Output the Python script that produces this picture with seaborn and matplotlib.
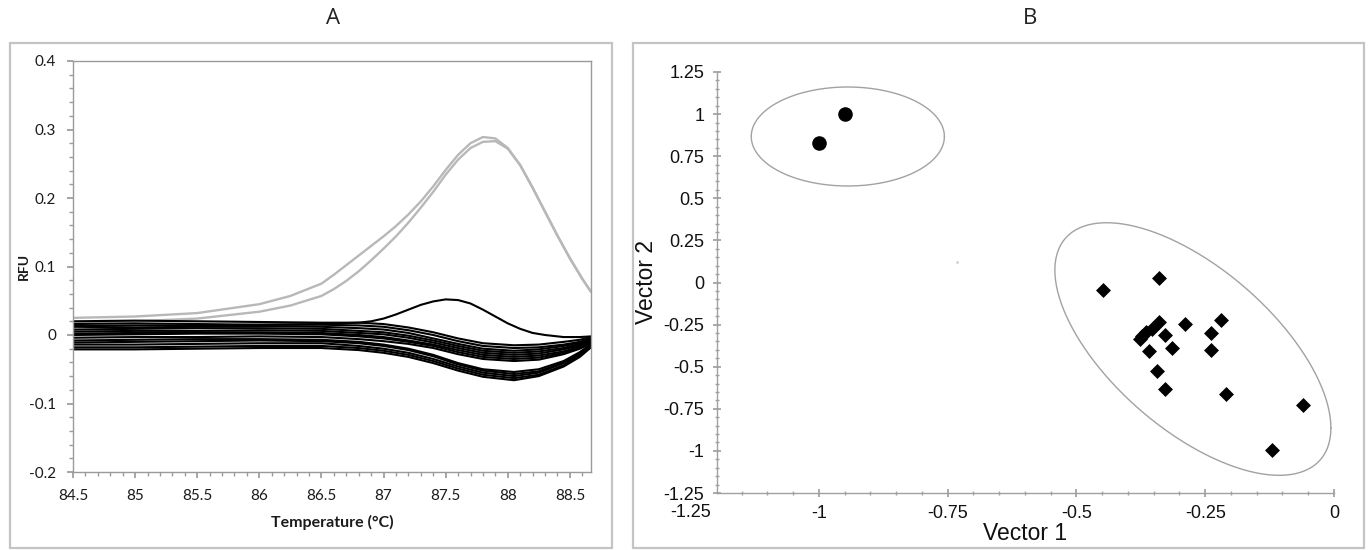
import numpy as np
import pandas as pd
import matplotlib
matplotlib.use("Agg")
import matplotlib.pyplot as plt
import seaborn as sns
from matplotlib.patches import Rectangle
from matplotlib.ticker import MultipleLocator

# ---------------- Panel A data (melt curves) ----------------
gray_temps = [84.5, 85.0, 85.5, 86.0, 86.25, 86.5, 86.6, 86.7, 86.8, 86.9, 87.0, 87.1,
              87.2, 87.3, 87.4, 87.5, 87.6, 87.7, 87.8, 87.9, 88.0, 88.1, 88.2, 88.3,
              88.4, 88.5, 88.6, 88.67]
gray_upper = [0.025, 0.027, 0.032, 0.045, 0.057, 0.075, 0.088, 0.102, 0.116, 0.130, 0.144, 0.159,
              0.176, 0.195, 0.217, 0.241, 0.263, 0.280, 0.289, 0.287, 0.273, 0.248, 0.215, 0.180,
              0.145, 0.112, 0.082, 0.063]
gray_lower = [0.019, 0.020, 0.024, 0.034, 0.043, 0.057, 0.067, 0.079, 0.093, 0.109, 0.126, 0.144,
              0.164, 0.186, 0.209, 0.234, 0.256, 0.273, 0.282, 0.283, 0.272, 0.248, 0.215, 0.180,
              0.145, 0.112, 0.082, 0.063]

bump_temps = [84.5, 85.0, 85.5, 86.0, 86.5, 86.8, 86.9, 87.0, 87.1, 87.2, 87.3, 87.4,
              87.5, 87.6, 87.7, 87.8, 87.9, 88.0, 88.1, 88.2, 88.3, 88.45, 88.58, 88.67]
bump_curve = [0.013, 0.014, 0.014, 0.015, 0.016, 0.018, 0.020, 0.024, 0.030, 0.037, 0.044, 0.049,
              0.052, 0.051, 0.046, 0.037, 0.027, 0.017, 0.009, 0.003, 0.000, -0.003, -0.003, -0.002]

black_temps = [84.5, 85.0, 85.5, 86.0, 86.5, 86.8, 87.0, 87.2, 87.4, 87.6,
               87.8, 88.05, 88.25, 88.45, 88.58, 88.67]
black_curves = [
    [0.020, 0.021, 0.020, 0.019, 0.018, 0.018, 0.016, 0.011, 0.004, -0.005, -0.012, -0.015, -0.014, -0.010, -0.007, -0.003],
    [0.016, 0.017, 0.016, 0.015, 0.015, 0.014, 0.012, 0.007, 0.000, -0.009, -0.016, -0.019, -0.018, -0.014, -0.010, -0.005],
    [0.012, 0.011, 0.012, 0.013, 0.012, 0.010, 0.008, 0.003, -0.005, -0.013, -0.020, -0.023, -0.021, -0.016, -0.011, -0.006],
    [0.008, 0.009, 0.010, 0.010, 0.009, 0.006, 0.004, -0.001, -0.008, -0.016, -0.023, -0.026, -0.024, -0.019, -0.013, -0.008],
    [0.005, 0.006, 0.006, 0.007, 0.006, 0.003, 0.001, -0.004, -0.011, -0.019, -0.026, -0.029, -0.027, -0.021, -0.015, -0.009],
    [0.002, 0.003, 0.004, 0.004, 0.003, 0.000, -0.003, -0.008, -0.014, -0.022, -0.029, -0.032, -0.030, -0.024, -0.017, -0.010],
    [0.000, 0.001, 0.002, 0.002, 0.001, -0.002, -0.005, -0.010, -0.016, -0.025, -0.032, -0.035, -0.033, -0.026, -0.019, -0.011],
    [-0.004, -0.003, -0.003, -0.002, -0.003, -0.006, -0.009, -0.013, -0.019, -0.028, -0.035, -0.038, -0.036, -0.028, -0.020, -0.012],
    [-0.008, -0.007, -0.006, -0.006, -0.007, -0.010, -0.014, -0.020, -0.029, -0.041, -0.050, -0.054, -0.050, -0.038, -0.025, -0.013],
    [-0.011, -0.010, -0.009, -0.008, -0.009, -0.012, -0.016, -0.022, -0.031, -0.043, -0.052, -0.057, -0.053, -0.040, -0.027, -0.014],
    [-0.014, -0.014, -0.013, -0.012, -0.012, -0.016, -0.020, -0.026, -0.035, -0.046, -0.055, -0.060, -0.055, -0.041, -0.028, -0.015],
    [-0.018, -0.018, -0.017, -0.016, -0.016, -0.019, -0.023, -0.029, -0.038, -0.049, -0.058, -0.063, -0.058, -0.044, -0.030, -0.016],
    [-0.021, -0.021, -0.020, -0.019, -0.019, -0.022, -0.026, -0.032, -0.041, -0.052, -0.061, -0.066, -0.060, -0.046, -0.032, -0.018],
]
a_xticks = [84.5, 85, 85.5, 86, 86.5, 87, 87.5, 88, 88.5]
a_xticklabels = ["84.5", "85", "85.5", "86", "86.5", "87", "87.5", "88", "88.5"]
a_yticks = [-0.2, -0.1, 0, 0.1, 0.2, 0.3, 0.4]
a_yticklabels = ["-0.2", "-0.1", "0", "0.1", "0.2", "0.3", "0.4"]

# ---------------- Panel B data (scatter) ----------------
circle_x = [-1.0, -0.95]
circle_y = [0.83, 1.0]
diamond_x = [-0.449, -0.339, -0.339, -0.354, -0.366, -0.373, -0.377, -0.329, -0.289, -0.219,
             -0.239, -0.359, -0.315, -0.239, -0.344, -0.329, -0.210, -0.060, -0.120]
diamond_y = [-0.045, 0.025, -0.233, -0.278, -0.295, -0.315, -0.337, -0.312, -0.248, -0.223,
             -0.298, -0.405, -0.387, -0.401, -0.526, -0.634, -0.664, -0.727, -0.995]
stray_x = [-0.732]
stray_y = [0.12]
# ellipses: centre x, centre y, half-extent x, half-extent y, correlation
ell1 = dict(cx=-0.944, cy=0.867, sx=0.1875, sy=0.294, rho=0.0)
ell2 = dict(cx=-0.274, cy=-0.395, sx=0.268, sy=0.75, rho=-0.625)
b_xticks = [-1.0, -0.75, -0.5, -0.25, 0]
b_xticklabels = ["-1", "-0.75", "-0.5", "-0.25", "0"]
b_first_xtick = -1.25
b_first_xlabel = "-1.25"
b_yticks = [-1.25, -1.0, -0.75, -0.5, -0.25, 0, 0.25, 0.5, 0.75, 1.0, 1.25]
b_yticklabels = ["-1.25", "-1", "-0.75", "-0.5", "-0.25", "0", "0.25", "0.5", "0.75", "1", "1.25"]

# ---------------- figure ----------------
sns.set_theme(style="white")
plt.rcParams["font.family"] = ["Liberation Sans", "DejaVu Sans"]
narrow = ["Lato", "DejaVu Sans"]

fig = plt.figure(figsize=(13.69, 5.5), dpi=100)
W, H = 1369, 550

def fbox(l, t, r, b):
    return [l / W, 1 - b / H, (r - l) / W, (b - t) / H]

# panel frames
for (l, t, r, b) in [(10, 43, 612, 548), (633, 43, 1364, 548)]:
    fig.add_artist(Rectangle((l / W, 1 - b / H), (r - l) / W, (b - t) / H,
                             transform=fig.transFigure, fill=False,
                             edgecolor="#c4c4c4", linewidth=1.6))
fig.text(333 / W, 1 - 19 / H, "A", ha="center", va="center", fontsize=16,
         family=["Open Sans", "DejaVu Sans"], color="#222222")
fig.text(1030 / W, 1 - 19 / H, "B", ha="center", va="center", fontsize=16,
         family=["Open Sans", "DejaVu Sans"], color="#222222")

# ---- Panel A ----
axA = fig.add_axes(fbox(73, 61, 591, 472))
rows = []
for gname, vals in [("g1", gray_upper), ("g2", gray_lower)]:
    for t, v in zip(gray_temps, vals):
        rows.append((gname, "gray", t, v))
for t, v in zip(bump_temps, bump_curve):
    rows.append(("bump", "black", t, v))
for i, vals in enumerate(black_curves):
    for t, v in zip(black_temps, vals):
        rows.append((f"b{i}", "black", t, v))
dfA = pd.DataFrame(rows, columns=["curve", "group", "temp", "rfu"])
sns.lineplot(data=dfA[dfA.group == "gray"], x="temp", y="rfu", units="curve",
             estimator=None, color="#b8b8b8", linewidth=1.7, ax=axA, legend=False)
sns.lineplot(data=dfA[dfA.group == "black"], x="temp", y="rfu", units="curve",
             estimator=None, color="black", linewidth=1.5, ax=axA, legend=False)
axA.set_xlim(84.5, 88.67)
axA.set_ylim(-0.2, 0.4)
axA.set_xticks(a_xticks)
axA.set_xticklabels(a_xticklabels)
axA.set_yticks(a_yticks)
axA.set_yticklabels(a_yticklabels)
axA.xaxis.set_minor_locator(MultipleLocator(0.1))
axA.yaxis.set_minor_locator(MultipleLocator(0.02))
for s in axA.spines.values():
    s.set_color("#9a9a9a")
    s.set_linewidth(1.0)
    s.set_visible(True)
axA.tick_params(which="both", direction="out", color="#9a9a9a", labelcolor="#1a1a1a",
                labelsize=11, bottom=True, left=True, top=False, right=False)
axA.tick_params(which="major", length=4, pad=8)
axA.tick_params(which="minor", length=3)
for lab in axA.get_xticklabels() + axA.get_yticklabels():
    lab.set_family(narrow)
axA.set_xlabel("Temperature (°C)", fontsize=11.5, family=narrow, fontweight="bold",
               color="#1a1a1a", labelpad=9)
axA.set_ylabel("RFU", fontsize=10, family=narrow, fontweight="bold", color="#1a1a1a")
axA.yaxis.set_label_coords(-0.083, 0.5)

# ---- Panel B ----
axB = fig.add_axes(fbox(717, 72, 1334, 493))

def ellipse_frame(p, n=240):
    t = np.linspace(0, 2 * np.pi, n)
    a = p["sx"] * np.cos(t)
    b = p["sy"] * (p["rho"] * np.cos(t) + np.sqrt(1 - p["rho"] ** 2) * np.sin(t))
    return pd.DataFrame({"x": p["cx"] + a, "y": p["cy"] + b})

for p in (ell1, ell2):
    e = ellipse_frame(p)
    sns.lineplot(data=e, x="x", y="y", sort=False, color="#a2a2a2", linewidth=1.0,
                 ax=axB, legend=False, estimator=None)

sns.scatterplot(x=circle_x, y=circle_y, marker="o", s=110, color="black",
                edgecolor="black", linewidth=0, ax=axB, legend=False)
sns.scatterplot(x=diamond_x, y=diamond_y, marker="D", s=58, color="black",
                edgecolor="black", linewidth=0, ax=axB, legend=False)
sns.scatterplot(x=stray_x, y=stray_y, marker="o", s=4, color="#d0d0d0",
                linewidth=0, ax=axB, legend=False)

axB.set_xlim(-1.198, 0.0)
axB.set_ylim(-1.25, 1.25)
axB.set_xticks(b_xticks)
axB.set_xticklabels(b_xticklabels)
axB.set_yticks(b_yticks)
axB.set_yticklabels(b_yticklabels)
axB.xaxis.set_minor_locator(MultipleLocator(0.05))
axB.yaxis.set_minor_locator(MultipleLocator(0.05))
for side in ["top", "right"]:
    axB.spines[side].set_visible(False)
for side in ["left", "bottom"]:
    axB.spines[side].set_color("#a0a0a0")
    axB.spines[side].set_linewidth(1.0)
axB.tick_params(which="both", direction="inout", color="#a0a0a0", labelcolor="#111111",
                labelsize=13, bottom=True, left=True)
axB.tick_params(which="major", length=6, pad=6)
axB.tick_params(which="minor", length=3)
# the -1.25 x label sits left of the axis start in the original
axB.text(b_first_xtick, -0.025, b_first_xlabel, transform=axB.get_xaxis_transform(),
         ha="center", va="top", fontsize=13, color="#111111", clip_on=False)
axB.set_xlabel("Vector 1", fontsize=16.5, color="#111111", labelpad=0)
axB.set_ylabel("Vector 2", fontsize=16.5, color="#111111", labelpad=4)

fig.savefig("out.png", dpi=100)
